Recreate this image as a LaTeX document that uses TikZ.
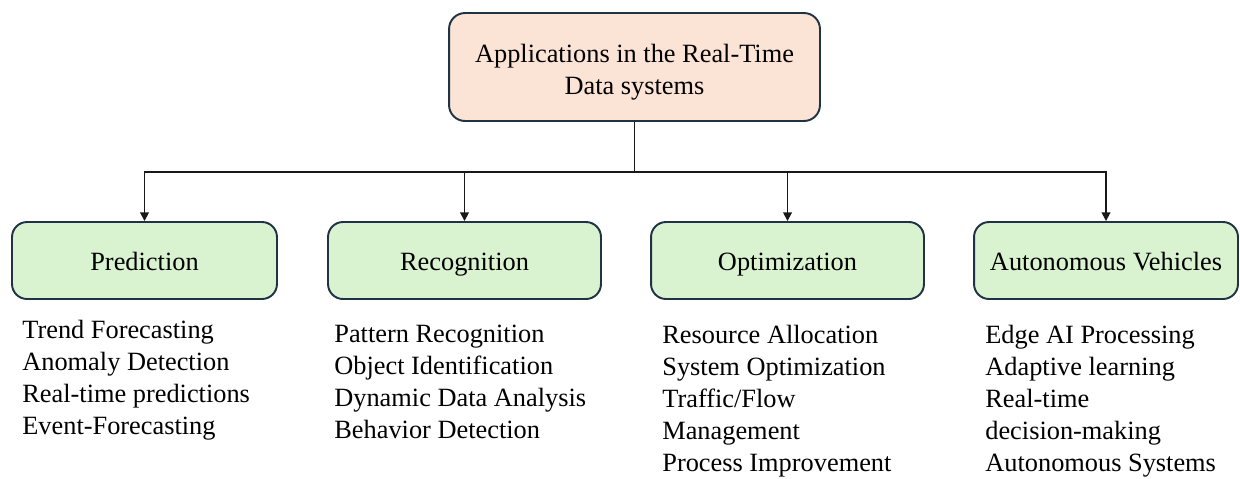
\documentclass[tikz,border=0pt]{standalone}
\usepackage{fontspec}
\setmainfont{Liberation Serif}
\usetikzlibrary{arrows.meta, positioning}
\usepackage{xcolor}

\definecolor{rootfill}{HTML}{FBE3D6}
\definecolor{catfill}{HTML}{D9F2D0}
\definecolor{edgeline}{HTML}{1F3345}

\begin{document}
\begin{tikzpicture}[
        x=0.02cm, y=-0.02cm,
        font=\fontsize{15}{18.2}\selectfont,
        root/.style={draw=edgeline, line width=1.1pt, rounded corners=0.32cm, fill=rootfill, minimum width=7.42cm, minimum height=2.16cm, align=center},
        category/.style={draw=edgeline, line width=1.1pt, rounded corners=0.3cm, fill=catfill, minimum height=1.54cm, text height=12.5pt, text depth=1pt},
        items/.style={anchor=north west, inner sep=0pt, align=left},
        link/.style={draw=black!90, line width=1pt, -{Triangle[length=5pt, width=5pt]}}
    ]

        \useasboundingbox (0,0) rectangle (1240,478);

        % Top node
        \node[root] (apps) at (634.5,67) {\rule{0pt}{16pt}Applications in the Real-Time\\Data systems};

        % Categories
        \node[category, minimum width=5.30cm] (pred) at (144.5,260.5) {Prediction};
        \node[category, minimum width=5.46cm] (recog) at (464.5,260.5) {Recognition};
        \node[category, minimum width=5.46cm] (optim) at (787.5,260.5) {Optimization};
        \node[category, minimum width=5.28cm] (auto) at (1106,260.5) {Autonomous Vehicles};

        % Connectors
        \coordinate (hub) at (634.5,172);
        \draw[line width=1pt, black!90] (apps.south) -- (hub);
        \foreach \c in {pred, recog, optim, auto}
            \draw[link] (hub) -| (\c.north);

        % Lists under each category
        \node[items] (predlist) at (22,320) {Trend Forecasting\\Anomaly Detection\\Real-time predictions\\Event-Forecasting};
        \node[items] (recoglist) at (334,325) {Pattern Recognition\\Object Identification\\Dynamic Data Analysis\\Behavior Detection};
        \node[items] (optimlist) at (662,325) {Resource Allocation\\System Optimization\\Traffic/Flow\\Management\\Process Improvement};
        \node[items] (autolist) at (985,325) {Edge AI Processing\\Adaptive learning\\Real-time\\decision-making\\Autonomous Systems};

    \end{tikzpicture}
\end{document}
